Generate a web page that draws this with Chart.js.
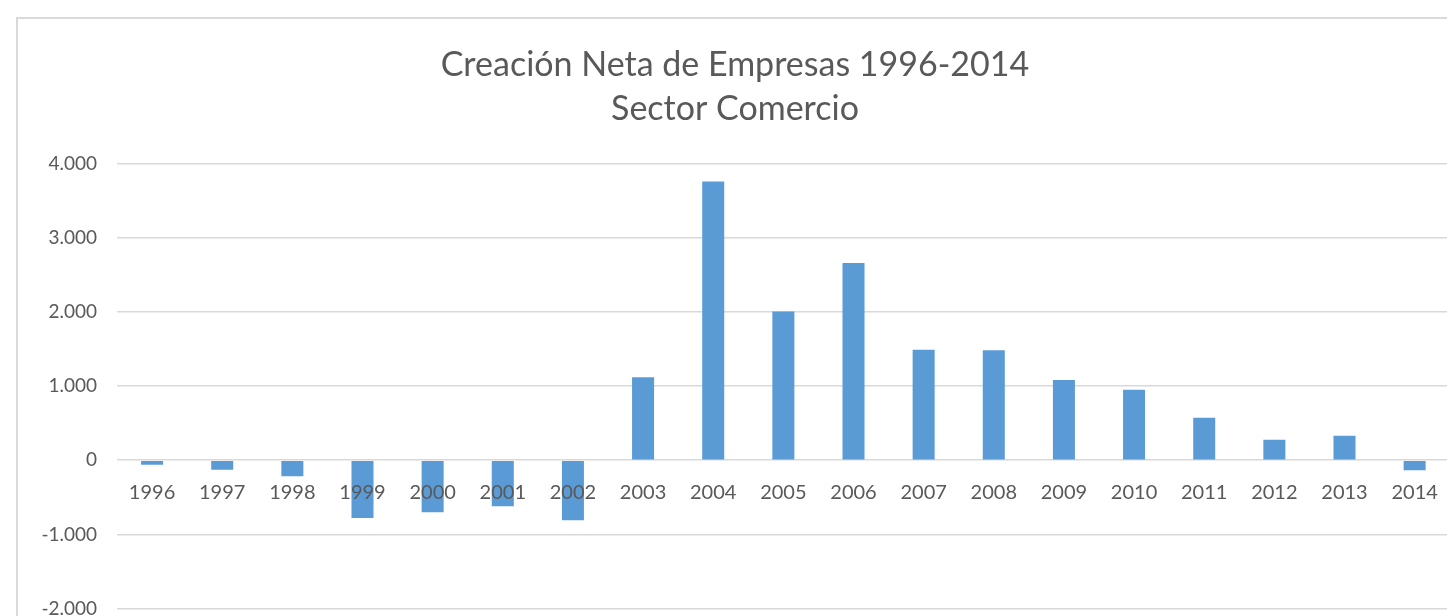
<!DOCTYPE html>
<html>
<head>
<meta charset="utf-8">
<script src="https://cdn.jsdelivr.net/npm/chart.js@4"></script>
<style>
  html, body { margin: 0; padding: 0; background: #fff; overflow: hidden; }
  #frame {
    position: absolute; left: 16px; top: 17px;
    border-left: 2px solid #d9d9d9; border-top: 2px solid #d9d9d9;
  }
</style>
</head>
<body>
<div id="frame"><canvas id="empresasChart" width="1440" height="621"></canvas></div>
<script>
// datos
var years = ["1996","1997","1998","1999","2000","2001","2002","2003","2004","2005",
             "2006","2007","2008","2009","2010","2011","2012","2013","2014"];
var netas = [-60, -130, -215, -780, -700, -620, -810, 1117, 3757, 2005,
             2658, 1490, 1482, 1081, 950, 572, 275, 328, -135];
var titleLines = ["Creación Neta de Empresas 1996-2014", "Sector Comercio"];

function miles(v) {
  return String(v).replace(/\B(?=(\d{3})+(?!\d))/g, ".");
}

var ctx = document.getElementById("empresasChart");
var empresasChart = new Chart(ctx, {
  type: 'bar',
  data: {
    labels: years,
    datasets: [{
      data: netas,
      backgroundColor: "#5b9bd5",
      barPercentage: 0.314,
      categoryPercentage: 1.0
    }]
  },
  options: {
    responsive: false,
    animation: false,
    layout: { padding: { left: 0, right: 6, bottom: 21 } },
    plugins: {
      legend: { display: false },
      tooltip: { enabled: false },
      title: {
        display: true,
        text: titleLines,
        color: "#595959",
        font: { family: "Lato", size: 34, weight: 'normal', lineHeight: 1.3 },
        padding: { top: 24, bottom: 32 }
      }
    },
    scales: {
      x: {
        position: { y: 0 },
        grid: { display: false, drawTicks: false },
        border: { display: false },
        ticks: {
          z: 1, // etiquetas encima de las barras
          color: "#595959",
          font: { family: "Lato", size: 20 },
          padding: 20,
          maxRotation: 0
        }
      },
      y: {
        min: -2000,
        max: 4000,
        grid: { color: "#d9d9d9", lineWidth: 1.5, drawTicks: false },
        border: { display: false },
        afterFit: function (s) { s.width = 99; },
        ticks: {
          stepSize: 1000,
          color: "#595959",
          font: { family: "Lato", size: 19 },
          padding: 20,
          callback: function (v) { return miles(v); }
        }
      }
    }
  }
});
</script>
</body>
</html>
